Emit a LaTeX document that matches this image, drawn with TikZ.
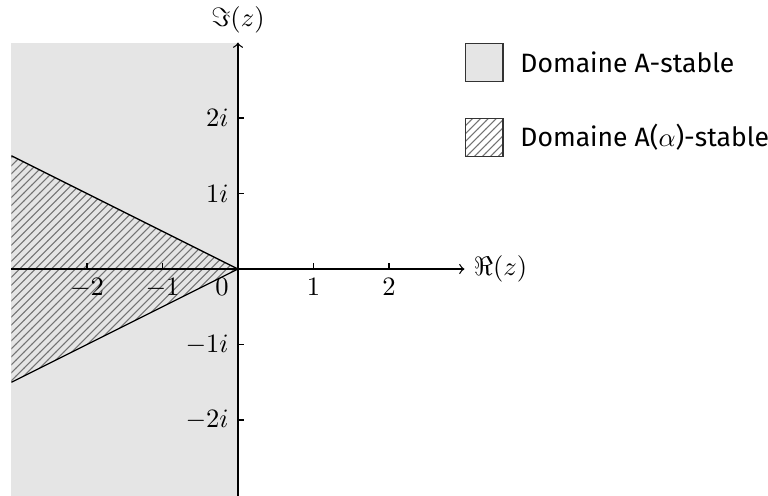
\documentclass[tikz,border=0pt]{standalone}
\usepackage{amsmath}
\usepackage{fontspec}
\setmainfont{Fira Sans}
\usetikzlibrary{patterns, positioning}

\begin{document}
\begin{tikzpicture}[
    axisline/.style={->, >=to, line width=0.5pt},
    tickmark/.style={line width=0.4pt},
    stabfill/.style={fill=gray!20},
    hatch/.style={pattern=north east lines, pattern color=black!55},
    edge/.style={line width=0.5pt},
    legbox/.style={rectangle, draw=black!80, minimum size=0.5cm, inner sep=0pt}
]
\useasboundingbox (-3.152,-3.0) rectangle (7.02,3.563);

%% --- Stability domains ---
\fill[stabfill] (-3,-3) rectangle (0,3);
\fill[hatch] (0,0) -- (-3,1.5) -- (-3,-1.5) -- cycle;

\coordinate (origin) at (0,0);
\coordinate (wtop)   at (-3,1.5);
\coordinate (wbot)   at (-3,-1.5);
\draw[edge] (wtop) -- (origin) -- (wbot);

%% --- Axes ---
\coordinate (xmin) at (-3,0);
\coordinate (xmax) at (3,0);
\coordinate (ymin) at (0,-3);
\coordinate (ymax) at (0,3);
\draw[axisline] (xmin) -- (xmax);
\draw[axisline] (ymin) -- (ymax);

\node[anchor=west]  (relabel) at (xmax) {$\Re(z)$};
\node[anchor=south] (imlabel) at (ymax) {$\Im(z)$};

%% --- Ticks ---
\foreach \x in {-2,-1,1,2} {
    \draw[tickmark] (\x,0) -- (\x,0.08);
    \node[anchor=north] (xl\x) at (\x,0) {$\x$};
}
\node[anchor=north east] (xl0) at (origin) {$0$};

\foreach \y in {-2,-1,1,2} {
    \draw[tickmark] (0,\y) -- (0.08,\y);
    \node[anchor=east] (yl\y) at (0,\y) {$\y i$};
}

%% --- Legend ---
\node[legbox, stabfill] (legA) at (3.26,2.735) {};
\node[right=0.1cm of legA] (legAtext) {Domaine A-stable};

\node[legbox, hatch] (legB) at (3.26,1.742) {};
\node[right=0.1cm of legB] (legBtext) {Domaine A($\alpha$)-stable};

\end{tikzpicture}
\end{document}
